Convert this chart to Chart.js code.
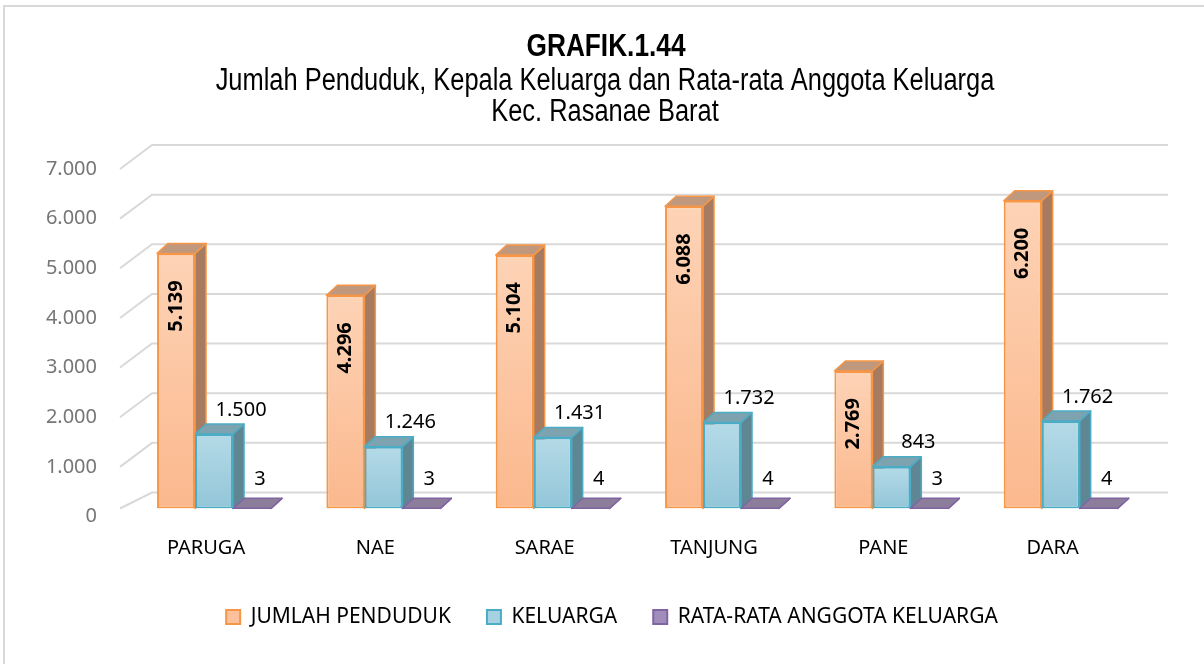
<!DOCTYPE html>
<html>
<head>
<meta charset="utf-8">
<title>Grafik 1.44</title>
<script src="https://cdn.jsdelivr.net/npm/chart.js@4.4.1/dist/chart.umd.min.js"></script>
<style>
    html, body { margin: 0; padding: 0; background: #fff; overflow: hidden; }
    #frame { position: absolute; left: 3px; top: 5px; width: 1260px; height: 720px; border: 2px solid #d9d9d9; }
    #wrap { position: absolute; left: 0; top: 0; width: 1204px; height: 664px; }
</style>
</head>
<body>
<div id="frame"></div>
<div id="wrap"><canvas id="grafik" width="1204" height="664"></canvas></div>
<script>
    // Data per kelurahan
    const kelurahan = ['PARUGA', 'NAE', 'SARAE', 'TANJUNG', 'PANE', 'DARA'];
    const jumlahPenduduk = [5139, 4296, 5104, 6088, 2769, 6200];
    const keluarga = [1500, 1246, 1431, 1732, 843, 1762];
    const rataRataAnggota = [3, 3, 4, 4, 3, 4];
    const yTicks = [0, 1000, 2000, 3000, 4000, 5000, 6000, 7000];

    const seriesNames = ['JUMLAH PENDUDUK', 'KELUARGA', 'RATA-RATA ANGGOTA KELUARGA'];
    const judul = 'GRAFIK.1.44';
    const subJudul = ['Jumlah Penduduk, Kepala Keluarga dan Rata-rata Anggota Keluarga', 'Kec. Rasanae Barat'];

    // Face colours for each series (front gradient, border, side, top, legend)
    const palette = [
        { light: '#fdd3b6', dark: '#fbb88d', border: '#f79646', side: '#a67b5f', top: '#bf987e', legend: '#fbc19c' },
        { light: '#b5dae7', dark: '#92c6d8', border: '#4bacc6', side: '#5e8793', top: '#7ca3af', legend: '#a6d1e0' },
        { light: '#aa98c2', dark: '#9a86b4', border: '#8064a2', side: '#5e4b75', top: '#8c7d9b', legend: '#a08dba' }
    ];

    const FONT = "'Noto Sans', 'Open Sans', sans-serif";
    const TITLE_FONT = "'Liberation Sans', Arial, sans-serif";

    // 3D offsets: bar depth, front edge of the floor and the back wall
    const DEPTH = { x: 11, y: -10 };
    const FRONT = { x: -9.35, y: 8 };
    const BACK = { x: 22.65, y: -16 };

    function formatID(v) {
        return String(v).replace(/\B(?=(\d{3})+(?!\d))/g, '.');
    }

    function frontFill(p) {
        return function(ctx) {
            const chart = ctx.chart;
            const yScale = chart.scales.y;
            if (ctx.type !== 'data' || !chart.chartArea || !yScale) {
                return p.dark;
            }
            const top = yScale.getPixelForValue(ctx.raw);
            const base = yScale.getPixelForValue(0);
            if (!isFinite(top) || base - top < 1) {
                return p.dark;
            }
            const g = chart.ctx.createLinearGradient(0, top, 0, base);
            g.addColorStop(0, p.light);
            g.addColorStop(1, p.dark);
            return g;
        };
    }

    function polygon(ctx, pts, fill, stroke) {
        ctx.beginPath();
        ctx.moveTo(pts[0][0], pts[0][1]);
        for (let i = 1; i < pts.length; i++) {
            ctx.lineTo(pts[i][0], pts[i][1]);
        }
        ctx.closePath();
        ctx.fillStyle = fill;
        ctx.fill();
        ctx.strokeStyle = stroke;
        ctx.stroke();
    }

    // narrow title lines (Liberation Sans squeezed horizontally)
    function narrowText(ctx, text, cx, baseline, font) {
        ctx.save();
        ctx.font = font;
        ctx.textAlign = 'center';
        ctx.textBaseline = 'alphabetic';
        ctx.translate(cx, baseline);
        ctx.scale(0.82, 1);
        ctx.fillText(text, 0, 0);
        ctx.restore();
    }

    const judulPlugin = {
        id: 'judul',
        afterDraw: function(chart) {
            const ctx = chart.ctx;
            ctx.save();
            ctx.fillStyle = '#000';
            narrowText(ctx, judul, 606, 56, 'bold 32px ' + TITLE_FONT);
            narrowText(ctx, subJudul[0], 605, 90, '31px ' + TITLE_FONT);
            narrowText(ctx, subJudul[1], 605, 121, '31px ' + TITLE_FONT);
            ctx.restore();
        }
    };

    const bar3d = {
        id: 'bar3d',

        beforeDatasetsDraw: function(chart) {
            const ctx = chart.ctx;
            const area = chart.chartArea;
            const y = chart.scales.y;

            // walls: diagonal on the left side, horizontal line on the back
            ctx.save();
            ctx.strokeStyle = '#d9d9d9';
            ctx.lineWidth = 2;
            yTicks.forEach(function(v) {
                const py = y.getPixelForValue(v);
                const fy = v === 0 ? py : py + FRONT.y;
                ctx.beginPath();
                ctx.moveTo(area.left + FRONT.x, fy);
                ctx.lineTo(area.left + BACK.x, py + BACK.y);
                ctx.lineTo(area.right + BACK.x, py + BACK.y);
                ctx.stroke();
            });
            ctx.restore();

            // side and top faces, front faces are drawn by the bar elements
            ctx.save();
            ctx.lineWidth = 1.5;
            ctx.lineJoin = 'round';
            chart.data.datasets.forEach(function(ds, i) {
                const p = palette[i];
                chart.getDatasetMeta(i).data.forEach(function(el) {
                    const l = el.x - el.width / 2;
                    const r = el.x + el.width / 2;
                    const t = el.y;
                    const b = el.base;
                    polygon(ctx, [[r, t], [r + DEPTH.x, t + DEPTH.y], [r + DEPTH.x, b + DEPTH.y], [r, b]], p.side, p.border);
                    polygon(ctx, [[l, t], [l + DEPTH.x, t + DEPTH.y], [r + DEPTH.x, t + DEPTH.y], [r, t]], p.top, p.border);
                });
            });
            ctx.restore();
        },

        afterDatasetsDraw: function(chart) {
            const ctx = chart.ctx;
            ctx.save();
            ctx.fillStyle = '#000';
            ctx.textBaseline = 'middle';
            chart.data.datasets.forEach(function(ds, i) {
                chart.getDatasetMeta(i).data.forEach(function(el, j) {
                    const text = formatID(ds.data[j]);
                    if (i === 0) {
                        ctx.save();
                        ctx.font = 'bold 20px ' + FONT;
                        ctx.textAlign = 'right';
                        ctx.translate(el.x, el.y + 27);
                        ctx.rotate(-Math.PI / 2);
                        ctx.fillText(text, 0, 0);
                        ctx.restore();
                    } else if (i === 1) {
                        ctx.font = '20px ' + FONT;
                        ctx.textAlign = 'center';
                        ctx.fillText(text, el.x + 27, el.y - 24);
                    } else {
                        ctx.font = '20px ' + FONT;
                        ctx.textAlign = 'center';
                        ctx.fillText(text, el.x + 8, el.y - 29);
                    }
                });
            });
            ctx.restore();
        }
    };

    const seriesData = [jumlahPenduduk, keluarga, rataRataAnggota];

    const datasets = seriesData.map(function(values, i) {
        return {
            label: seriesNames[i],
            data: values,
            backgroundColor: frontFill(palette[i]),
            borderColor: palette[i].border,
            borderWidth: 2,
            borderSkipped: false,
            categoryPercentage: 0.673,
            barPercentage: 1
        };
    });

    new Chart(document.getElementById('grafik'), {
        type: 'bar',
        data: {
            labels: kelurahan,
            datasets: datasets
        },
        options: {
            responsive: false,
            animation: false,
            layout: { padding: { left: 20, right: 0, top: 161, bottom: 26.5 } },
            plugins: {
                title: { display: false },
                legend: {
                    position: 'bottom',
                    labels: {
                        color: '#000',
                        font: { family: FONT, size: 21 },
                        boxWidth: 14,
                        boxHeight: 14,
                        padding: 36,
                        generateLabels: function(chart) {
                            return chart.data.datasets.map(function(ds, i) {
                                return {
                                    text: ds.label,
                                    fillStyle: palette[i].legend,
                                    strokeStyle: palette[i].border,
                                    lineWidth: 2,
                                    datasetIndex: i
                                };
                            });
                        }
                    }
                },
                tooltip: { enabled: false }
            },
            scales: {
                x: {
                    grid: { display: false },
                    border: { display: false },
                    ticks: {
                        color: '#000',
                        font: { family: FONT, size: 20 },
                        padding: 20,
                        labelOffset: -8,
                        maxRotation: 0
                    },
                    afterFit: function(scale) { scale.height = 62; }
                },
                y: {
                    min: 0,
                    max: 7000,
                    grid: { display: false, drawTicks: false },
                    border: { display: false },
                    ticks: {
                        stepSize: 1000,
                        color: '#767676',
                        font: { family: FONT, size: 20 },
                        padding: 32.35,
                        labelOffset: 8,
                        callback: function(v) { return formatID(v); }
                    },
                    afterFit: function(scale) { scale.width = 109.35; }
                },
                yKanan: {
                    position: 'right',
                    grid: { display: false, drawTicks: false },
                    border: { display: false },
                    ticks: { display: false },
                    afterFit: function(scale) { scale.width = 58.65; }
                }
            }
        },
        plugins: [bar3d, judulPlugin]
    });
</script>
</body>
</html>
